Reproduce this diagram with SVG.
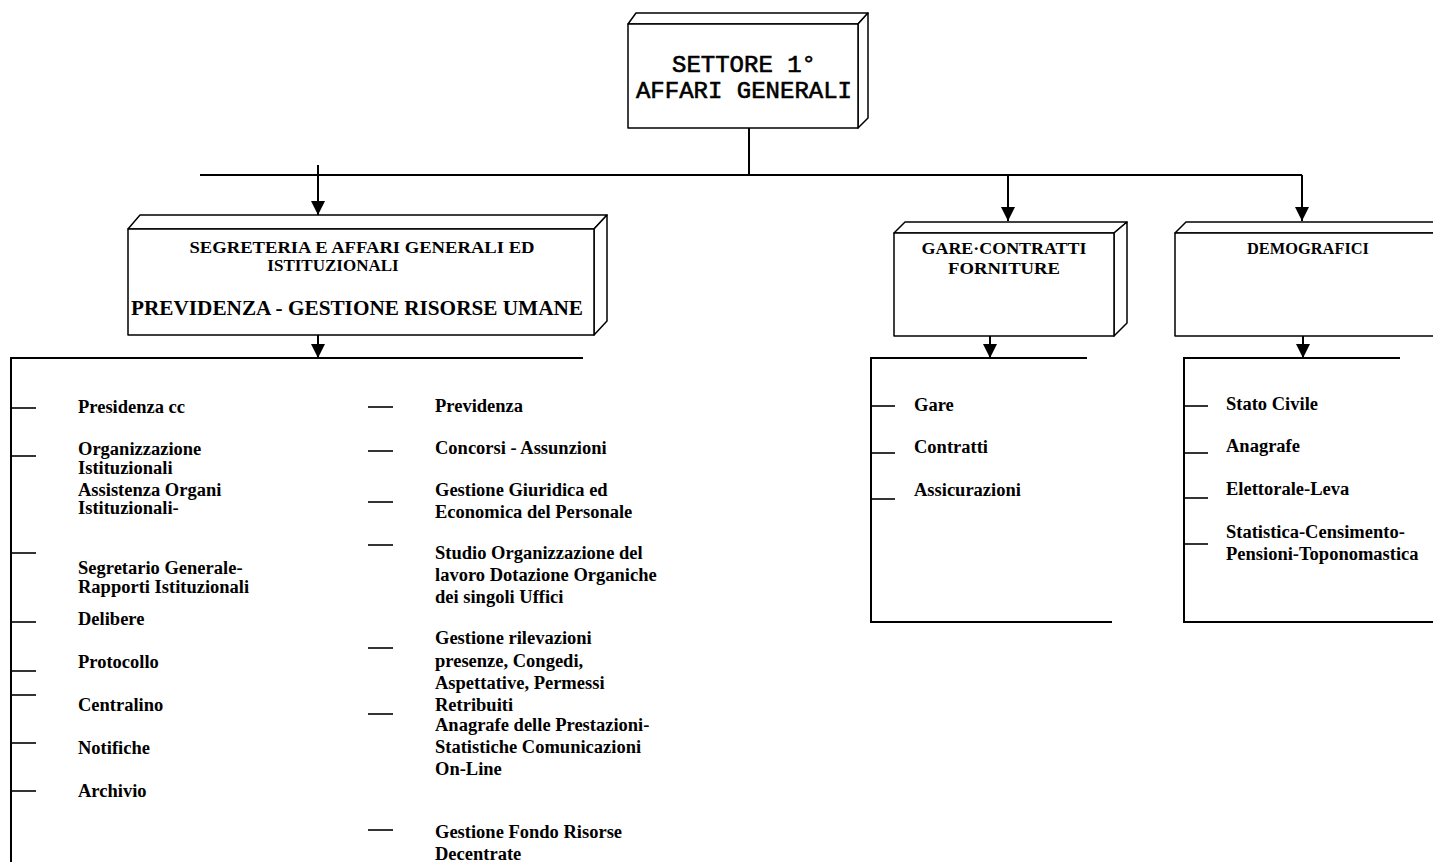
<svg xmlns="http://www.w3.org/2000/svg" width="1433" height="862" viewBox="0 0 1433 862">
<defs>
<marker id="ah" markerUnits="userSpaceOnUse" markerWidth="16" markerHeight="18" refX="14" refY="7" orient="auto">
<path d="M0,0 L14,7 L0,14 Z" fill="#000"/>
</marker>
<style>
.box{fill:#fff;stroke:#000;stroke-width:1.5;stroke-linejoin:round}
.ln{fill:none;stroke:#000;stroke-width:2}
.tk{fill:none;stroke:#000;stroke-width:1.6}
.ar{fill:none;stroke:#000;stroke-width:2;marker-end:url(#ah)}
.t{font-family:"Liberation Serif","Times New Roman",serif;font-weight:bold;font-size:18.5px;fill:#000}
.h{font-family:"Liberation Serif","Times New Roman",serif;font-weight:bold;font-size:17px;fill:#000;text-anchor:middle}
.m{font-family:"Liberation Mono","Courier New",monospace;font-size:24px;fill:#000;stroke:#000;stroke-width:0.6;text-anchor:middle}
</style>
</defs>
<rect width="1433" height="862" fill="#fff"/>

<g id="connectors">
<line class="ln" x1="749" y1="128" x2="749" y2="175"/>
<line class="ln" x1="200" y1="175" x2="1302" y2="175"/>
<line class="ar" x1="318" y1="165" x2="318" y2="215"/>
<line class="ar" x1="1008" y1="175" x2="1008" y2="221"/>
<line class="ar" x1="1302" y1="175" x2="1302" y2="221"/>
<line class="ar" x1="318" y1="335" x2="318" y2="358"/>
<line class="ar" x1="990" y1="336" x2="990" y2="358"/>
<line class="ar" x1="1303" y1="336" x2="1303" y2="358"/>
</g>

<g id="settore">
<path class="box" d="M628,24 L636,13 L868,13 L858,24 Z"/>
<path class="box" d="M858,24 L868,13 L868,118 L858,128 Z"/>
<rect class="box" x="628" y="24" width="230" height="104"/>
<text class="m" x="744" y="72">SETTORE 1°</text>
<text class="m" x="744" y="98">AFFARI GENERALI</text>
</g>

<g id="segreteria">
<path class="box" d="M128,229 L140,215 L607,215 L594,229 Z"/>
<path class="box" d="M594,229 L607,215 L607,321 L594,335 Z"/>
<rect class="box" x="128" y="229" width="466" height="106"/>
<text class="h" x="362" y="253" textLength="345" lengthAdjust="spacingAndGlyphs">SEGRETERIA E AFFARI GENERALI ED</text>
<text class="h" x="333" y="271">ISTITUZIONALI</text>
<text class="h" x="357" y="315" style="font-size:21px" textLength="452" lengthAdjust="spacingAndGlyphs">PREVIDENZA - GESTIONE RISORSE UMANE</text>
</g>

<g id="gare">
<path class="box" d="M894,233 L905,222 L1127,222 L1114,233 Z"/>
<path class="box" d="M1114,233 L1127,222 L1127,323 L1114,336 Z"/>
<rect class="box" x="894" y="233" width="220" height="103"/>
<text class="h" x="1004" y="254" textLength="165" lengthAdjust="spacingAndGlyphs">GARE·CONTRATTI</text>
<text class="h" x="1004" y="274" textLength="112" lengthAdjust="spacingAndGlyphs">FORNITURE</text>
</g>

<g id="demografici">
<path class="box" d="M1175,233 L1186,222 L1445,222 L1440,233 Z"/>
<rect class="box" x="1175" y="233" width="270" height="103"/>
<text class="h" x="1308" y="254" textLength="122" lengthAdjust="spacingAndGlyphs">DEMOGRAFICI</text>
</g>

<g id="lista-segreteria">
<path class="ln" d="M583,358 L11,358 L11,862"/>
<g class="tk">
<line x1="11" y1="408" x2="36" y2="408"/>
<line x1="11" y1="456" x2="36" y2="456"/>
<line x1="11" y1="553" x2="36" y2="553"/>
<line x1="11" y1="622" x2="36" y2="622"/>
<line x1="11" y1="671" x2="36" y2="671"/>
<line x1="11" y1="695" x2="36" y2="695"/>
<line x1="11" y1="743" x2="36" y2="743"/>
<line x1="11" y1="791" x2="36" y2="791"/>
<line x1="368" y1="407" x2="393" y2="407"/>
<line x1="368" y1="451" x2="393" y2="451"/>
<line x1="368" y1="502" x2="393" y2="502"/>
<line x1="368" y1="545" x2="393" y2="545"/>
<line x1="368" y1="648" x2="393" y2="648"/>
<line x1="368" y1="714" x2="393" y2="714"/>
<line x1="368" y1="830" x2="393" y2="830"/>
</g>
<g class="t">
<text x="78" y="413">Presidenza cc</text>
<text x="78" y="455">Organizzazione</text>
<text x="78" y="474">Istituzionali</text>
<text x="78" y="496">Assistenza Organi</text>
<text x="78" y="514">Istituzionali-</text>
<text x="78" y="574">Segretario Generale-</text>
<text x="78" y="593">Rapporti Istituzionali</text>
<text x="78" y="625">Delibere</text>
<text x="78" y="668">Protocollo</text>
<text x="78" y="711">Centralino</text>
<text x="78" y="754">Notifiche</text>
<text x="78" y="797">Archivio</text>
<text x="435" y="412">Previdenza</text>
<text x="435" y="454">Concorsi - Assunzioni</text>
<text x="435" y="496">Gestione Giuridica ed</text>
<text x="435" y="518">Economica del Personale</text>
<text x="435" y="559">Studio Organizzazione del</text>
<text x="435" y="581">lavoro Dotazione Organiche</text>
<text x="435" y="603">dei singoli Uffici</text>
<text x="435" y="644">Gestione rilevazioni</text>
<text x="435" y="667">presenze, Congedi,</text>
<text x="435" y="689">Aspettative, Permessi</text>
<text x="435" y="711">Retribuiti</text>
<text x="435" y="731">Anagrafe delle Prestazioni-</text>
<text x="435" y="753">Statistiche Comunicazioni</text>
<text x="435" y="775">On-Line</text>
<text x="435" y="838">Gestione Fondo Risorse</text>
<text x="435" y="860">Decentrate</text>
</g>
</g>

<g id="lista-gare">
<path class="ln" d="M1087,358 L871,358 L871,622 L1112,622"/>
<g class="tk">
<line x1="871" y1="406" x2="895" y2="406"/>
<line x1="871" y1="453" x2="895" y2="453"/>
<line x1="871" y1="499" x2="895" y2="499"/>
</g>
<g class="t">
<text x="914" y="411">Gare</text>
<text x="914" y="453">Contratti</text>
<text x="914" y="496">Assicurazioni</text>
</g>
</g>

<g id="lista-demografici">
<path class="ln" d="M1400,358 L1184,358 L1184,622 L1433,622"/>
<g class="tk">
<line x1="1184" y1="406" x2="1208" y2="406"/>
<line x1="1184" y1="453" x2="1208" y2="453"/>
<line x1="1184" y1="498" x2="1208" y2="498"/>
<line x1="1184" y1="544" x2="1208" y2="544"/>
</g>
<g class="t">
<text x="1226" y="410">Stato Civile</text>
<text x="1226" y="452">Anagrafe</text>
<text x="1226" y="495">Elettorale-Leva</text>
<text x="1226" y="538">Statistica-Censimento-</text>
<text x="1226" y="560">Pensioni-Toponomastica</text>
</g>
</g>
</svg>
